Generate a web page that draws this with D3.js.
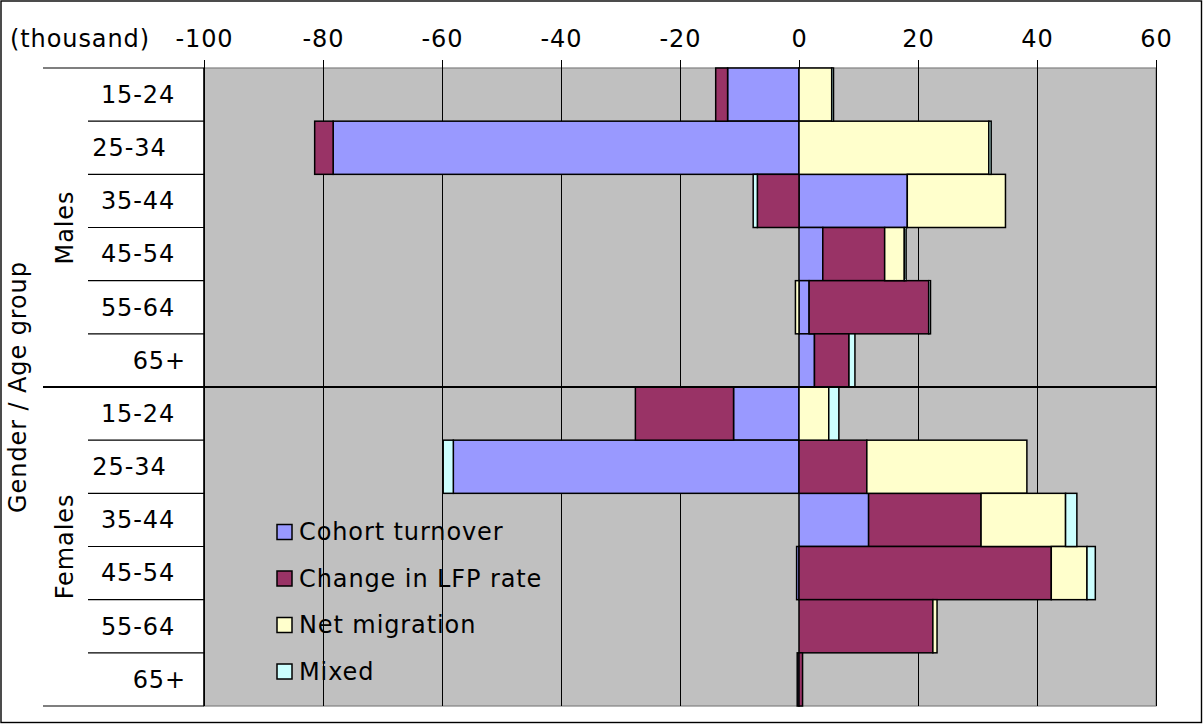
<!DOCTYPE html>
<html>
<head>
<meta charset="utf-8">
<script src="https://cdn.jsdelivr.net/npm/d3@7"></script>
<style>
  html, body { margin: 0; padding: 0; background: #fff; }
  svg { display: block; font-family: "DejaVu Sans", Verdana, sans-serif; }
  text { white-space: pre; letter-spacing: 0.9px; }
</style>
</head>
<body>
<svg id="chart" width="1203" height="724"></svg>
<script>
// Labour force change decomposition by gender and age group (thousand persons)
const genders = ["Males", "Females"];
const ageGroups = ["15-24", "25-34  ", "35-44", "45-54", "55-64", "     65+"];
const seriesNames = ["Cohort turnover", "Change in LFP rate", "Net migration", "Mixed"];

// One value per row: Males 15-24 ... 65+, then Females 15-24 ... 65+
const cohortTurnover = [-12.0, -78.3, 18.2, 4.0, 1.7, 2.6, -11.0, -58.1, 11.7, -0.4, 0.0, -0.3];
const lfpRateChange  = [-2.0, -3.1, -7.0, 10.4, 20.1, 5.8, -16.5, 11.4, 18.9, 42.4, 22.5, 0.6];
const netMigration   = [5.5, 31.9, 16.5, 3.3, -0.6, 0.0, 5.0, 26.9, 14.2, 6.0, 0.7, 0.0];
const mixedEffect    = [0.3, 0.4, -0.7, 0.3, 0.3, 1.0, 1.7, -1.7, 1.9, 1.4, 0.0, 0.0];

const xTicks = [-100, -80, -60, -40, -20, 0, 20, 40, 60];
const seriesColors = ["#9999FF", "#993366", "#FFFFCC", "#CCFFFF"];

const svg = d3.select("#chart");
const W = 1203, H = 724;
const plot = { left: 204, top: 68, right: 1156, bottom: 706 };

// chart frame
svg.append("rect")
  .attr("x", 1).attr("y", 1).attr("width", W - 2.5).attr("height", H - 2.5)
  .attr("fill", "#fff").attr("stroke", "#000").attr("stroke-width", 1.4);

const rowKeys = genders.flatMap(g => ageGroups.map(a => g + "|" + a));
const columns = [cohortTurnover, lfpRateChange, netMigration, mixedEffect];
const rows = rowKeys.map((k, i) => {
  const r = { key: k };
  seriesNames.forEach((s, j) => { r[s] = columns[j][i]; });
  return r;
});

const x = d3.scaleLinear().domain([-100, 60]).range([plot.left, plot.right]);
const y = d3.scaleBand().domain(rowKeys).range([plot.top, plot.bottom]).padding(0);
const color = d3.scaleOrdinal().domain(seriesNames).range(seriesColors);

// plot area
svg.append("rect")
  .attr("x", plot.left).attr("y", plot.top)
  .attr("width", plot.right - plot.left).attr("height", plot.bottom - plot.top)
  .attr("fill", "#C0C0C0").attr("stroke", "#808080").attr("stroke-width", 1.2);

// vertical gridlines
const grid = svg.append("g")
  .attr("transform", `translate(0,${plot.top})`)
  .call(d3.axisTop(x).tickValues(xTicks).tickSize(-(plot.bottom - plot.top)).tickFormat(""));
grid.select(".domain").remove();
grid.selectAll(".tick line").attr("stroke", "#000").attr("stroke-width", 1);

// stacked bars, negatives stacking away from zero
const stacked = d3.stack().keys(seriesNames).offset(d3.stackOffsetDiverging)(rows);
svg.append("g").selectAll("g")
  .data(stacked)
  .join("g")
  .attr("fill", d => color(d.key))
  .selectAll("rect")
  .data(d => d)
  .join("rect")
  .attr("x", d => x(Math.min(d[0], d[1])))
  .attr("width", d => Math.abs(x(d[1]) - x(d[0])))
  .attr("y", d => y(d.data.key))
  .attr("height", y.bandwidth())
  .attr("stroke", "#000")
  .attr("stroke-width", 1.5);

// top value axis (plain hyphen for negatives)
const topAxis = svg.append("g")
  .attr("transform", `translate(0,${plot.top})`)
  .call(d3.axisTop(x).tickValues(xTicks).tickSize(8).tickPadding(13).tickFormat(d => String(d)));
topAxis.select(".domain").remove();
topAxis.selectAll(".tick line").attr("stroke", "#000");
topAxis.selectAll(".tick text")
  .attr("font-family", "DejaVu Sans, Verdana, sans-serif")
  .attr("font-size", 24).attr("fill", "#000");

svg.append("text")
  .attr("x", 10).attr("y", 47)
  .attr("font-size", 24)
  .text("(thousand)");

// category axis: left edge and row separators
svg.append("line")
  .attr("x1", plot.left).attr("x2", plot.left)
  .attr("y1", plot.top).attr("y2", plot.bottom)
  .attr("stroke", "#000").attr("stroke-width", 1.5);

const boundaries = d3.range(rowKeys.length + 1);
svg.append("g").selectAll("line")
  .data(boundaries)
  .join("line")
  .attr("x1", i => (i % ageGroups.length === 0) ? 43 : 88)
  .attr("x2", i => (i === ageGroups.length) ? plot.right : plot.left)
  .attr("y1", i => plot.top + i * y.step())
  .attr("y2", i => plot.top + i * y.step())
  .attr("stroke", "#000")
  .attr("stroke-width", i => (i === ageGroups.length) ? 1.8 : 1.2);

svg.append("g").selectAll("text")
  .data(rowKeys)
  .join("text")
  .attr("x", 138)
  .attr("y", k => y(k) + y.bandwidth() / 2)
  .attr("dy", "0.35em")
  .attr("text-anchor", "middle")
  .attr("font-size", 24)
  .text(k => k.split("|")[1]);

// gender group labels
genders.forEach((g, gi) => {
  const top = y(rowKeys[gi * ageGroups.length]);
  const bottom = y(rowKeys[gi * ageGroups.length + ageGroups.length - 1]) + y.bandwidth();
  svg.append("text")
    .attr("transform", `translate(65,${(top + bottom) / 2}) rotate(-90)`)
    .attr("dy", "0.35em")
    .attr("text-anchor", "middle")
    .attr("font-size", 24)
    .text(g);
});

svg.append("text")
  .attr("transform", `translate(18,${(plot.top + plot.bottom) / 2}) rotate(-90)`)
  .attr("dy", "0.35em")
  .attr("text-anchor", "middle")
  .attr("font-size", 24)
  .text("Gender / Age group");

// legend
const legend = svg.append("g").attr("transform", "translate(277,532)");
const item = legend.selectAll("g")
  .data(seriesNames)
  .join("g")
  .attr("transform", (d, i) => `translate(0,${i * 46.5})`);
item.append("rect")
  .attr("x", 0).attr("y", -7.5).attr("width", 15).attr("height", 15)
  .attr("fill", d => color(d)).attr("stroke", "#000").attr("stroke-width", 1.5);
item.append("text")
  .attr("x", 22).attr("dy", "0.35em")
  .attr("font-size", 24)
  .text(d => d);
</script>
</body>
</html>
